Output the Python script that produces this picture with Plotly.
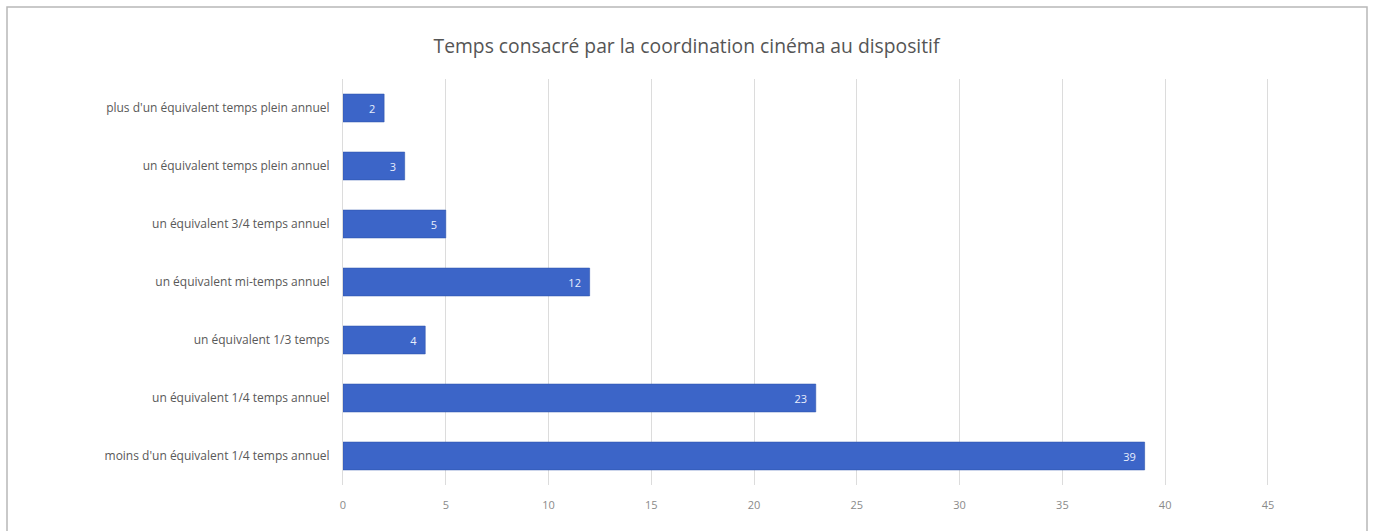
import plotly.graph_objects as go

# Categories listed bottom-to-top as drawn on the y axis
categories = [
    "moins d'un équivalent 1/4 temps annuel",
    "un équivalent 1/4 temps annuel",
    "un équivalent 1/3 temps",
    "un équivalent mi-temps annuel",
    "un équivalent 3/4 temps annuel",
    "un équivalent temps plein annuel",
    "plus d'un équivalent temps plein annuel",
]
values = [39, 23, 4, 12, 5, 3, 2]
x_ticks = [0, 5, 10, 15, 20, 25, 30, 35, 40, 45]

W, H = 1373, 531
ML, MR, MT, MB = 343, 103, 79, 46
pw = W - ML - MR
ph = H - MT - MB

fig = go.Figure(
    go.Bar(
        x=values,
        y=categories,
        orientation="h",
        marker=dict(color="#3c65c8", line=dict(width=0.6, color="#2f55ae")),
        width=0.48,
        text=[f"{v}\u00a0\u00a0" for v in values],
        textposition="inside",
        insidetextanchor="end",
        textfont=dict(color="#e8eefc", size=11, family="Open Sans"),
        cliponaxis=False,
    )
)

# outer frame of the chart
fig.add_shape(
    type="rect",
    xref="paper", yref="paper",
    x0=(7 - ML) / pw, x1=(1367 - ML) / pw,
    y0=(H - 533 - MB) / ph, y1=(H - 7 - MB) / ph,
    line=dict(color="#b8b8b8", width=1.5),
    fillcolor="rgba(0,0,0,0)",
    layer="below",
)

fig.update_layout(
    width=W,
    height=H,
    margin=dict(l=ML, r=MR, t=MT, b=MB),
    paper_bgcolor="white",
    plot_bgcolor="white",
    showlegend=False,
    title=dict(
        text="Temps consacré par la coordination cinéma au dispositif",
        x=0.5,
        xref="container",
        xanchor="center",
        y=1 - 46 / H,
        yanchor="middle",
        font=dict(family="Open Sans", size=19.3, color="#555555"),
    ),
    xaxis=dict(
        range=[0, 45.1],
        tickvals=x_ticks,
        ticktext=[str(t) for t in x_ticks],
        showgrid=True,
        gridcolor="#dcdcdc",
        gridwidth=1,
        zeroline=False,
        showline=False,
        tickfont=dict(family="Open Sans", size=11, color="#8a8a8a"),
        ticks="",
        ticklabelstandoff=12,
    ),
    yaxis=dict(
        categoryorder="array",
        categoryarray=categories,
        showgrid=False,
        showline=True,
        linecolor="#dcdcdc",
        linewidth=1,
        ticks="",
        tickfont=dict(family="Open Sans", size=12, color="#595959"),
        ticklabelstandoff=10,
    ),
    bargap=0.52,
)

fig.write_html("out.html")
